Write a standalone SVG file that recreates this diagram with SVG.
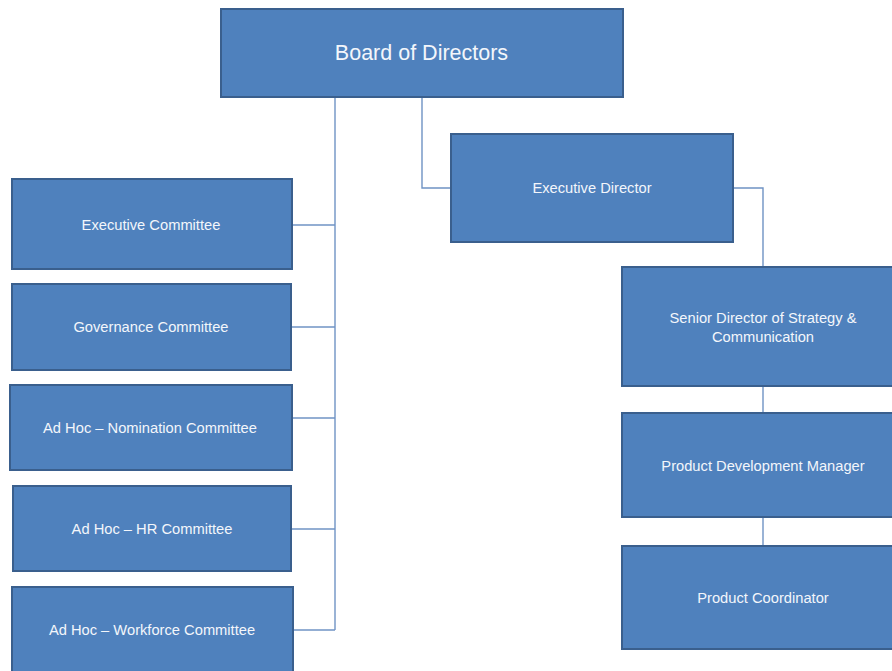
<svg xmlns="http://www.w3.org/2000/svg" width="892" height="671" viewBox="0 0 892 671">
  <style>
    .box { fill: #4f81bd; stroke: #3a5f8d; stroke-width: 2; }
    .lbl { fill: #f3f6fb; font-family: "Liberation Sans", Arial, sans-serif; font-size: 14.7px; text-anchor: middle; }
    .title { font-size: 21.5px; }
    .conn { fill: none; stroke: #6f93c4; stroke-width: 1.4; }
  </style>
  <rect width="892" height="671" fill="#ffffff"/>

  <!-- connectors -->
  <g id="connectors">
    <path class="conn" d="M335,97 V630"/>
    <path class="conn" d="M292,225 H335"/>
    <path class="conn" d="M291,327 H335"/>
    <path class="conn" d="M292,418 H335"/>
    <path class="conn" d="M291,529 H335"/>
    <path class="conn" d="M293,630 H335"/>
    <path class="conn" d="M422,97 V188 H451"/>
    <path class="conn" d="M733,188 H763 V267"/>
    <path class="conn" d="M763,386 V413"/>
    <path class="conn" d="M763,517 V546"/>
  </g>

  <g id="board">
    <rect class="box" x="221" y="9" width="402" height="88"/>
    <text class="lbl title" x="421.5" y="60">Board of Directors</text>
  </g>

  <g id="executive-committee">
    <rect class="box" x="12" y="179" width="280" height="90"/>
    <text class="lbl" x="151" y="230">Executive Committee</text>
  </g>

  <g id="governance-committee">
    <rect class="box" x="12" y="284" width="279" height="86"/>
    <text class="lbl" x="151" y="332">Governance Committee</text>
  </g>

  <g id="nomination-committee">
    <rect class="box" x="10" y="385" width="282" height="85"/>
    <text class="lbl" x="150" y="433">Ad Hoc – Nomination Committee</text>
  </g>

  <g id="hr-committee">
    <rect class="box" x="13" y="486" width="278" height="85"/>
    <text class="lbl" x="152" y="534">Ad Hoc – HR Committee</text>
  </g>

  <g id="workforce-committee">
    <rect class="box" x="12" y="587" width="281" height="90"/>
    <text class="lbl" x="152" y="635">Ad Hoc – Workforce Committee</text>
  </g>

  <g id="executive-director">
    <rect class="box" x="451" y="134" width="282" height="108"/>
    <text class="lbl" x="592" y="193">Executive Director</text>
  </g>

  <g id="senior-director">
    <rect class="box" x="622" y="267" width="290" height="119"/>
    <text class="lbl" x="763" y="323">Senior Director of Strategy &amp;</text>
    <text class="lbl" x="763" y="342">Communication</text>
  </g>

  <g id="product-development-manager">
    <rect class="box" x="622" y="413" width="290" height="104"/>
    <text class="lbl" x="763" y="471">Product Development Manager</text>
  </g>

  <g id="product-coordinator">
    <rect class="box" x="622" y="546" width="290" height="103"/>
    <text class="lbl" x="763" y="603">Product Coordinator</text>
  </g>
</svg>
